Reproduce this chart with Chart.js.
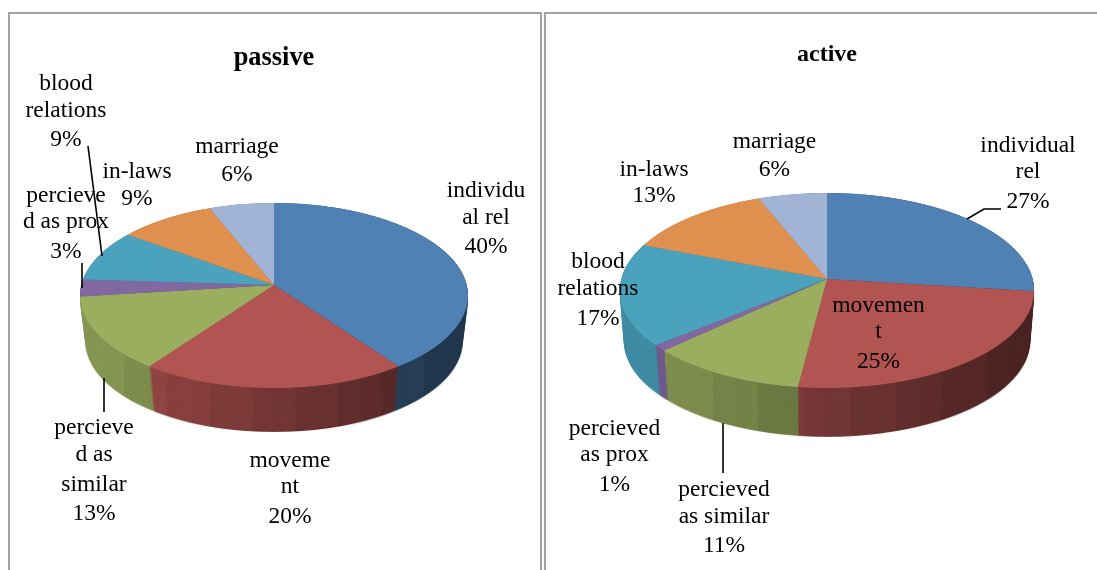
<!DOCTYPE html>
<html>
<head>
<meta charset="utf-8">
<title>passive / active</title>
<script src="https://cdn.jsdelivr.net/npm/chart.js@4"></script>
<style>
  html, body { margin: 0; padding: 0; background: #fff; overflow: hidden; width: 1097px; height: 570px; }
  .panel { position: absolute; top: 12px; height: 570px; border: 2px solid #a3a3a3; box-sizing: border-box; }
  .holder { position: absolute; top: 0; height: 570px; }
</style>
</head>
<body>
<div class="panel" style="left:8px;width:534px"></div>
<div class="panel" style="left:544px;width:570px"></div>
<div class="holder" style="left:0;width:548px"><canvas id="passiveChart" width="548" height="570"></canvas></div>
<div class="holder" style="left:548px;width:558px"><canvas id="activeChart" width="558" height="570"></canvas></div>
<script>
const categories = ["individual rel", "movement", "percieved as similar", "percieved as prox", "blood relations", "in-laws", "marriage"];
const passiveValues = [40, 20, 13, 3, 9, 9, 6];
const activeValues = [27, 25, 11, 1, 17, 13, 6];
const sliceColors = ["#4f81b4", "#b25552", "#9bad5f", "#8169a0", "#4aa2bc", "#df8f4e", "#a1b4d6"];

// how the excel labels wrap, the percent line gets added from the values
const passiveLabelLines = [["individu", "al rel"], ["moveme", "nt"], ["percieve", "d as", "similar"], ["percieve", "d as prox"], ["blood", "relations"], ["in-laws"], ["marriage"]];
const activeLabelLines = [["individual", "rel"], ["movemen", "t"], ["percieved", "as similar"], ["percieved", "as prox"], ["blood", "relations"], ["in-laws"], ["marriage"]];

const LABEL_FONT = '23.5px "Liberation Serif"';

// x centre and the baseline of every text line, in canvas pixels
const passiveLabelPos = [
  [486, [197, 224, 253]], [290, [467, 493, 523]], [94, [434, 461, 491, 520]],
  [66, [202, 228, 258]], [66, [90, 117, 146]], [137, [178, 205]], [237, [153, 181]]
];
const activeLabelPos = [
  [480, [152, 178, 208]], [330.5, [312, 338, 368]], [176, [496, 523, 552]],
  [66.5, [435, 461, 491]], [50, [268, 295, 325]], [106, [176, 202]], [226.5, [148, 176]]
];
const passiveLeaders = [[[88, 146], [102, 256]], [[82, 263], [82, 288]], [[104, 378], [104, 412]]];
const activeLeaders = [[[175, 423], [175, 473]], [[419, 219], [436, 209], [453, 209]]];

// wall darkness across the pie, with the stripes excel leaves on the side
function wallShade(ctx, view) {
  const x0 = view.cx - view.rx, x1 = view.cx + view.rx;
  const grad = ctx.createLinearGradient(x0, 0, x1, 0);
  const bands = 18;
  for (let i = 0; i < bands; i++) {
    const t = i / bands;
    const f = 0.88 - 0.5 * t + (i % 2 ? 0.01 : -0.01);
    const c = "rgba(0,0,0," + (1 - f).toFixed(3) + ")";
    grad.addColorStop(t, c);
    grad.addColorStop((i + 1) / bands, c);
  }
  ctx.globalCompositeOperation = "source-atop";
  ctx.fillStyle = grad;
  ctx.fillRect(0, 0, ctx.canvas.width, ctx.canvas.height);
  ctx.globalCompositeOperation = "source-over";
}

// Chart.js only draws round pies, so the arcs are drawn row by row with a
// perspective transform to get the tilted excel look
const tiltPlugin = {
  id: "tilt",
  beforeDatasetsDraw(chart, args, opts) {
    const arcs = chart.getDatasetMeta(0).data;
    const w = chart.width, h = chart.height;
    const ax = arcs[0].x, ay = arcs[0].y, R = arcs[0].outerRadius;

    const face = document.createElement("canvas");
    face.width = w; face.height = h;
    const fctx = face.getContext("2d");
    const top = Math.floor(opts.apexY - opts.k / (1 + opts.b));
    const bottom = Math.ceil(opts.apexY + opts.k / (1 - opts.b));
    for (let y = top; y <= bottom; y++) {
      const u = y + 0.5 - opts.apexY;
      const v = u / (opts.k + opts.b * u);
      const d = 1 - opts.b * v;
      const sx = opts.rx / (R * d);
      const sy = opts.k / (d * d * R);
      fctx.save();
      fctx.beginPath();
      fctx.rect(0, y, w, 1);
      fctx.clip();
      fctx.setTransform(sx, 0, 0, sy, opts.cx - sx * ax, y + 0.5 - sy * (ay + v * R));
      arcs.forEach((a) => a.draw(fctx));
      fctx.restore();
    }

    // the side wall is the same face stamped downwards and darkened
    const wall = document.createElement("canvas");
    wall.width = w; wall.height = h;
    const wctx = wall.getContext("2d");
    const steps = Math.ceil(opts.depth);
    for (let i = steps; i >= 0; i--) {
      const t = i / steps;
      const s = 1 - (1 - opts.bottomScale) * t;
      wctx.drawImage(face, opts.cx * (1 - s), opts.apexY * (1 - s) + opts.depth * t, w * s, h * s);
    }
    wallShade(wctx, opts);

    chart.ctx.drawImage(wall, 0, 0);
    chart.ctx.drawImage(face, 0, 0);
    return false;
  },
  afterDraw(chart, args, opts) {
    const ctx = chart.ctx;
    const values = chart.data.datasets[0].data;
    ctx.save();
    ctx.strokeStyle = "#000";
    ctx.lineWidth = 1.6;
    opts.leaders.forEach((pts) => {
      ctx.beginPath();
      pts.forEach((p, i) => (i ? ctx.lineTo(p[0], p[1]) : ctx.moveTo(p[0], p[1])));
      ctx.stroke();
    });
    ctx.fillStyle = "#000";
    ctx.font = LABEL_FONT;
    ctx.textAlign = "center";
    ctx.textBaseline = "alphabetic";
    values.forEach((val, i) => {
      const lines = opts.labelLines[i].concat([val + "%"]);
      const pos = opts.labelPos[i];
      lines.forEach((txt, j) => ctx.fillText(txt, pos[0], pos[1][j]));
    });
    ctx.restore();
  },
};

function makePie(id, title, titleSize, titleTop, values, view, labelLines, labelPos, leaders) {
  const ctx = document.getElementById(id).getContext("2d");
  return new Chart(ctx, {
    type: "pie",
    data: {
      labels: categories,
      datasets: [{ data: values, backgroundColor: sliceColors, borderWidth: 0 }],
    },
    options: {
      responsive: false,
      animation: false,
      events: [],
      plugins: {
        legend: { display: false },
        tooltip: { enabled: false },
        title: {
          display: true,
          text: title,
          color: "#000",
          font: { family: "Liberation Serif", size: titleSize, weight: "bold" },
          padding: { top: titleTop, bottom: 0 },
        },
        tilt: { ...view, labelLines: labelLines, labelPos: labelPos, leaders: leaders },
      },
    },
    plugins: [tiltPlugin],
  });
}

makePie("passiveChart", "passive", 26.4, 42, passiveValues,
  { cx: 274, apexY: 285, rx: 192.7, k: 91.3, b: 0.1135, depth: 47, bottomScale: 0.97 },
  passiveLabelLines, passiveLabelPos, passiveLeaders);
makePie("activeChart", "active", 24, 40, activeValues,
  { cx: 279, apexY: 279, rx: 205.6, k: 96.1, b: 0.118, depth: 51, bottomScale: 0.98 },
  activeLabelLines, activeLabelPos, activeLeaders);
</script>
</body>
</html>
